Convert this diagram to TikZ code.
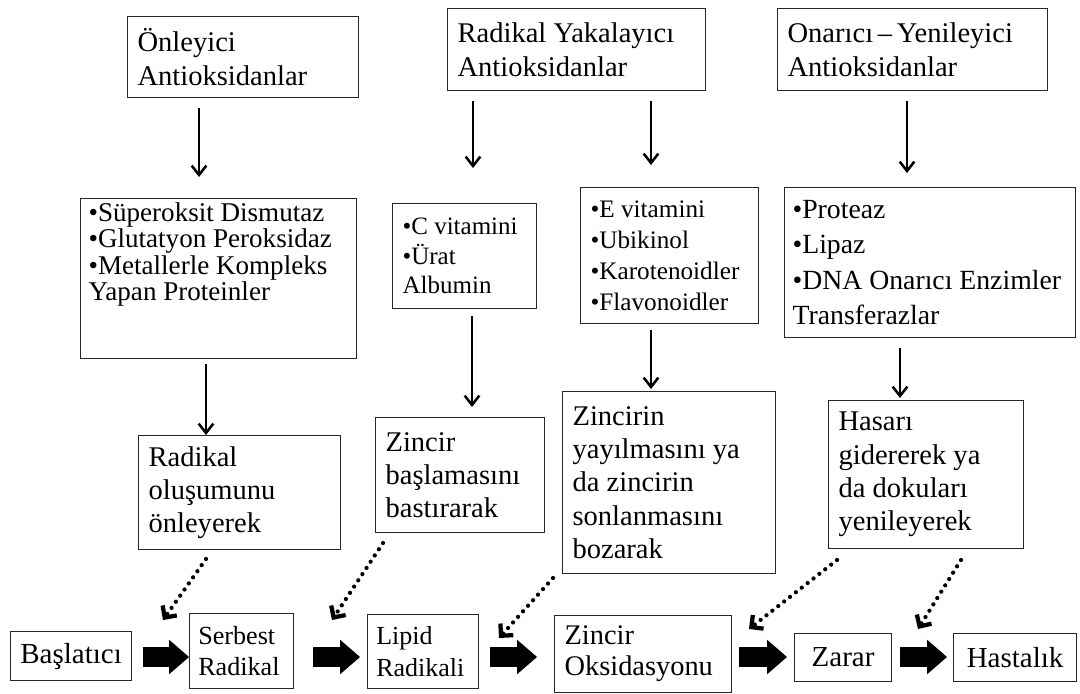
\documentclass[tikz,border=0pt]{standalone}
\usepackage{fontspec}
\setmainfont{Liberation Serif}
\usetikzlibrary{arrows.meta}
\begin{document}
\begin{tikzpicture}[x=0.75pt,y=-0.75pt,
  box/.style={draw=black!85, line width=0.9pt, anchor=north west, inner xsep=7.5pt, inner ysep=2pt, align=flush left},
  bigf/.style={font=\fontsize{21.4pt}{25pt}\selectfont},
  smallf/.style={font=\fontsize{18.75pt}{22pt}\selectfont},
  thinarr/.style={line width=1.9pt, -{Straight Barb[length=7pt,width=11pt]}},
  dotarr/.style={line width=3.2pt, line cap=round, dash pattern=on 0pt off 5.6pt, -{Straight Barb[length=6.5pt,width=13pt]}},
  blockarr/.style={line width=15pt, -{Triangle[length=15pt,width=26pt,line width=0pt]}}
]
\useasboundingbox[fill=white] (0,0) rectangle (1080,693);

% top row
\node[box,bigf,text width=158.25pt,minimum height=60.75pt] (t1) at (127,16) {Önleyici\\Antioksidanlar};
\node[box,bigf,text width=178.5pt,minimum height=61.5pt] (t2) at (447,8) {Radikal Yakalayıcı\\Antioksidanlar};
\node[box,bigf,text width=187.5pt,minimum height=61.5pt] (t3) at (777,8) {Onarıcı\,–\,Yenileyici\\Antioksidanlar};

% middle row
\node[box,text width=195pt,inner xsep=6pt,minimum height=120pt] (m1) at (80,198)
  {\parbox[c][114pt][t]{195pt}{\fontsize{20.3pt}{19.8pt}\selectfont\rightskip=0pt plus 1fil\relax
  •Süperoksit Dismutaz\\•Glutatyon Peroksidaz\\•Metallerle Kompleks\\Yapan Proteinler}};
\node[box,smallf,text width=93pt,minimum height=78.75pt] (m2) at (392,203) {•C vitamini\\•Ürat\\Albumin};
\node[box,font=\fontsize{18.9pt}{23.25pt}\selectfont,text width=118.5pt,minimum height=102pt] (m3) at (580,187)
  {•E vitamini\\•Ubikinol\\•Karotenoidler\\•Flavonoidler};
\node[box,font=\fontsize{20.8pt}{26.5pt}\selectfont,inner xsep=6pt,text width=206.25pt,minimum height=112.5pt] (m4) at (784,187)
  {•Proteaz\\•Lipaz\\•DNA Onarıcı Enzimler\\Transferazlar};

% lower row
\node[box,bigf,text width=136.5pt,minimum height=85.5pt] (r1) at (138,435) {Radikal\\oluşumunu\\önleyerek};
\node[box,bigf,text width=111.75pt,minimum height=86.25pt] (r2) at (375,417) {Zincir\\başlamasını\\bastırarak};
\node[box,bigf,text width=144.75pt,minimum height=136.5pt] (r3) at (562,391) {Zincirin\\yayılmasını ya\\da zincirin\\sonlanmasını\\bozarak};
\node[box,bigf,text width=131.25pt,minimum height=111pt] (r4) at (828,400) {Hasarı\\gidererek ya\\da dokuları\\yenileyerek};

% bottom row
\node[box,align=center,font=\fontsize{21.75pt}{25pt}\selectfont,inner xsep=2pt,minimum width=90.75pt,minimum height=36.75pt] (b1) at (10,631) {Başlatıcı};
\node[box,font=\fontsize{19.6pt}{23.5pt}\selectfont,inner xsep=6.5pt,text width=65pt,minimum height=56.25pt] (b2) at (189,613) {Serbest\\Radikal};
\node[box,font=\fontsize{19.5pt}{23.5pt}\selectfont,inner xsep=6.5pt,text width=70pt,minimum height=55.5pt] (b3) at (367,614) {Lipid\\Radikali};
\node[box,font=\fontsize{21.3pt}{23.25pt}\selectfont,text width=117.75pt,minimum height=57.75pt] (b4) at (554,615) {Zincir\\Oksidasyonu};
\node[box,align=center,font=\fontsize{21.75pt}{25pt}\selectfont,inner xsep=2pt,minimum width=72.75pt,minimum height=36pt] (b5) at (794,633) {Zarar};
\node[box,align=center,font=\fontsize{21.75pt}{25pt}\selectfont,inner xsep=2pt,minimum width=92.25pt,minimum height=36pt] (b6) at (953,633) {Hastalık};

% helper coordinates
\coordinate (xa) at (199,0);
\coordinate (xb) at (473,0);
\coordinate (xc) at (651,0);
\coordinate (xd) at (907,0);
\coordinate (xe) at (206,0);
\coordinate (xf) at (472,0);
\coordinate (xg) at (651,0);
\coordinate (xh) at (900,0);
\coordinate (yl) at (0,657);

% thin arrows
\draw[thinarr, shorten <=7.5pt, shorten >=15.75pt] (t1.south -| xa) -- (m1.north -| xa);
\draw[thinarr, shorten <=7.5pt, shorten >=26.25pt] (t2.south -| xb) -- (m2.north -| xb);
\draw[thinarr, shorten <=7.5pt, shorten >=16.5pt] (t2.south -| xc) -- (m3.north -| xc);
\draw[thinarr, shorten <=7.5pt, shorten >=10.5pt] (t3.south -| xd) -- (m4.north -| xd);
\draw[thinarr, shorten <=3.75pt] (m1.south -| xe) -- (r1.north -| xe);
\draw[thinarr, shorten <=5.25pt, shorten >=7.5pt] (m2.south -| xf) -- (r2.north -| xf);
\draw[thinarr, shorten <=4.5pt, shorten >=1.5pt] (m3.south -| xg) -- (r3.north -| xg);
\draw[thinarr, shorten <=7.5pt, shorten >=1.5pt] (m4.south -| xh) -- (r4.north -| xh);

% block arrows
\draw[blockarr, shorten <=8.25pt] (b1.east |- yl) -- (b2.west |- yl);
\draw[blockarr, shorten <=14.25pt, shorten >=5.25pt] (b2.east |- yl) -- (b3.west |- yl);
\draw[blockarr, shorten <=8.25pt, shorten >=12.75pt] (b3.east |- yl) -- (b4.west |- yl);
\draw[blockarr, shorten <=5.25pt, shorten >=5.25pt] (b4.east |- yl) -- (b5.west |- yl);
\draw[blockarr, shorten <=6pt, shorten >=4.5pt] (b5.east |- yl) -- (b6.west |- yl);

% dotted arrows
\coordinate (d1s) at (206,559); \coordinate (d1e) at (163,620);
\coordinate (d2s) at (383,543); \coordinate (d2e) at (332,620);
\coordinate (d3s) at (553,578); \coordinate (d3e) at (499,638);
\coordinate (d4s) at (837,560); \coordinate (d4e) at (749,629);
\coordinate (d5s) at (961,560); \coordinate (d5e) at (918,629);
\draw[dotarr] (d1s) -- (d1e);
\draw[dotarr] (d2s) -- (d2e);
\draw[dotarr] (d3s) -- (d3e);
\draw[dotarr] (d4s) -- (d4e);
\draw[dotarr] (d5s) -- (d5e);
\end{tikzpicture}
\end{document}
